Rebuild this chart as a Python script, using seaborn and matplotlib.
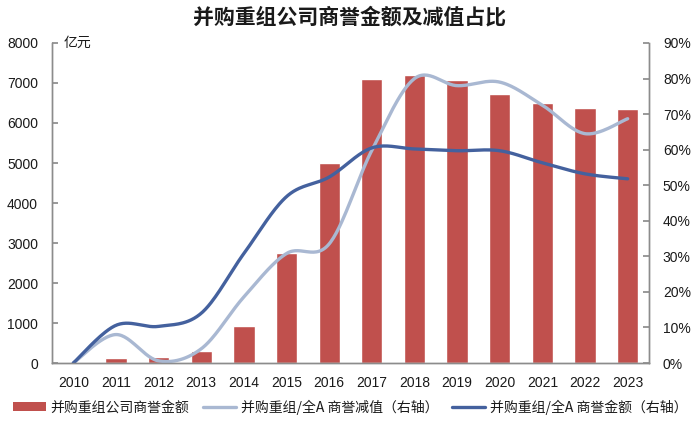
import numpy as np
import pandas as pd
import matplotlib
matplotlib.use("Agg")
import matplotlib.pyplot as plt
from matplotlib.patches import Patch
from matplotlib.lines import Line2D
import seaborn as sns

years = ["2010", "2011", "2012", "2013", "2014", "2015", "2016",
         "2017", "2018", "2019", "2020", "2021", "2022", "2023"]
goodwill = [0, 130, 160, 290, 920, 2760, 4990, 7100, 7210, 7080, 6730, 6500, 6380, 6360]
impair_share = [0.0, 8.0, 0.6, 4.0, 18.6, 30.8, 33.5, 59.8, 80.0, 78.0, 79.0, 72.5, 64.5, 68.7]
goodwill_share = [0.0, 10.6, 10.3, 14.0, 30.8, 46.8, 52.3, 60.5, 60.2, 59.7, 59.7, 56.3, 53.2, 51.8]

left_ticks = [0, 1000, 2000, 3000, 4000, 5000, 6000, 7000, 8000]
right_ticks = [0, 10, 20, 30, 40, 50, 60, 70, 80, 90]

title = "并购重组公司商誉金额及减值占比"
unit = "亿元"
lbl_bar = "并购重组公司商誉金额"
lbl_light = "并购重组/全A 商誉减值（右轴）"
lbl_dark = "并购重组/全A 商誉金额（右轴）"

BAR = "#C0504D"
DARK = "#44619E"
LIGHT = "#A9B8D2"
SPINE = "#8C8C8C"
TXT = "#1A1A1A"


def smooth(y, n=30):
    """Excel-style smoothed curve (Catmull-Rom Bezier) for display only."""
    y = np.asarray(y, float)
    x = np.arange(len(y), dtype=float)
    P = np.column_stack([x, y])
    out = []
    for i in range(len(P) - 1):
        p0 = P[i - 1] if i > 0 else P[i]
        p1 = P[i]
        p2 = P[i + 1]
        p3 = P[i + 2] if i + 2 < len(P) else P[i + 1]
        c1 = p1 + (p2 - p0) / 6.0
        c2 = p2 - (p3 - p1) / 6.0
        t = np.linspace(0, 1, n, endpoint=(i == len(P) - 2))[:, None]
        seg = ((1 - t) ** 3) * p1 + 3 * ((1 - t) ** 2) * t * c1 + 3 * (1 - t) * t ** 2 * c2 + t ** 3 * p2
        out.append(seg)
    arr = np.vstack(out)
    return arr[:, 0], arr[:, 1]


sns.set_theme(style="white")
plt.rcParams["font.family"] = ["Noto Sans CJK SC", "DejaVu Sans"]
plt.rcParams["axes.unicode_minus"] = False

fig = plt.figure(figsize=(7.0, 4.23), dpi=100)
ax = fig.add_axes([52 / 700, 1 - 363 / 423, (649 - 52) / 700, (363 - 43) / 423])

df = pd.DataFrame({"year": years, "goodwill": goodwill})
sns.barplot(data=df, x="year", y="goodwill", ax=ax, color=BAR, saturation=1,
            width=0.5, zorder=2)
ax.set_xlim(-0.5, len(years) - 0.5)
ax.set_ylim(0, 8000)
ax.set_yticks(left_ticks)
ax.set_yticklabels([str(v) for v in left_ticks])
ax.set_xlabel("")
ax.set_ylabel("")

ax2 = ax.twinx()
xs, ys = smooth(impair_share)
sns.lineplot(x=xs, y=ys, ax=ax2, color=LIGHT, linewidth=2.4, sort=False, estimator=None)
xs, ys = smooth(goodwill_share)
sns.lineplot(x=xs, y=ys, ax=ax2, color=DARK, linewidth=2.4, sort=False, estimator=None)
ax2.set_ylim(0, 90)
ax2.set_yticks(right_ticks)
ax2.set_yticklabels([f"{v}%" for v in right_ticks])
ax2.set_xlim(-0.5, len(years) - 0.5)
ax2.set_ylabel("")

for a in (ax, ax2):
    a.spines["top"].set_visible(False)
    for s in ("left", "right", "bottom"):
        a.spines[s].set_color(SPINE)
        a.spines[s].set_linewidth(1.0)
    a.grid(False)

ax.tick_params(axis="y", direction="in", length=4, color=SPINE, pad=10,
               labelsize=10, labelcolor=TXT)
ax.tick_params(axis="x", length=0, pad=9, labelsize=10, labelcolor=TXT)
ax2.tick_params(axis="y", direction="in", length=4, color=SPINE, pad=10,
                labelsize=10, labelcolor=TXT)
for lab in ax.get_xticklabels() + ax.get_yticklabels() + ax2.get_yticklabels():
    lab.set_fontfamily(["Liberation Sans", "DejaVu Sans"])

fig.text(0.5, 1 - 17 / 423, title, ha="center", va="center",
         fontsize=15, fontweight="bold", color=TXT)
fig.text(64 / 700, 1 - 43 / 423, unit, ha="left", va="center",
         fontsize=10, color=TXT)

handles = [Patch(facecolor=BAR, edgecolor="none"),
           Line2D([0], [0], color=LIGHT, lw=2.4),
           Line2D([0], [0], color=DARK, lw=2.4)]
fig.legend(handles, [lbl_bar, lbl_light, lbl_dark], loc="center",
           bbox_to_anchor=(0.5, 1 - 407 / 423), ncol=3, frameon=False,
           fontsize=10, handlelength=2.4, handleheight=0.6, handletextpad=0.3,
           columnspacing=1.0, labelcolor=TXT)

fig.savefig("out.png", dpi=100)
